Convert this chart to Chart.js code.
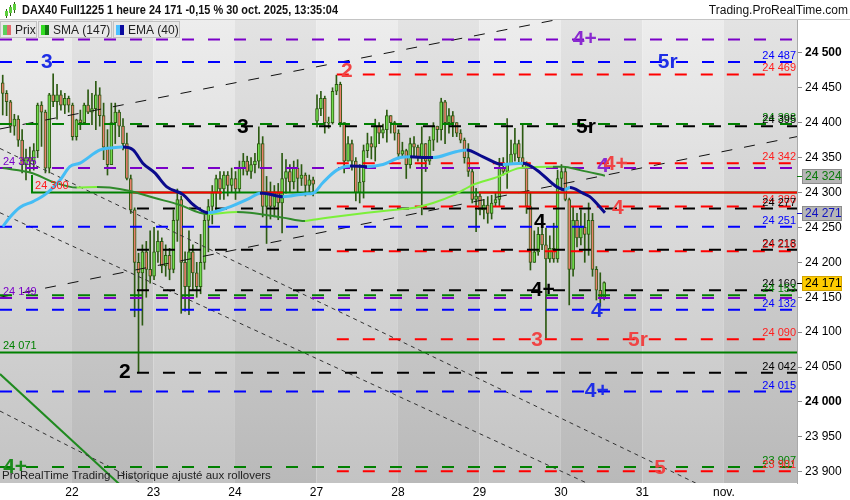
<!DOCTYPE html>
<html>
<head>
<meta charset="utf-8">
<title>DAX40 Full1225 1 heure</title>
<script src="https://cdn.jsdelivr.net/npm/chart.js@4.4.1/dist/chart.umd.min.js"></script>
<style>
  html, body { margin: 0; padding: 0; background: #fff; }
  canvas { display: block; }
</style>
</head>
<body>
<canvas id="chart" width="850" height="500"></canvas>
<script>
Chart.defaults.font.family = "'Liberation Sans', Arial, sans-serif";

// x axis is in bars (one bar = one hour), 21 bars per session
const xMin = -0.7;
const xMax = 204.7;
const dayTickPos = [17.85, 38.85, 59.85, 80.85, 101.85, 122.85, 143.85, 164.85, 185.85];
const dayLabels = ['22', '23', '24', '27', '28', '29', '30', '31', 'nov.'];

const yTickValues = [23900, 23950, 24000, 24050, 24100, 24150, 24200, 24250, 24300, 24350, 24400, 24450, 24500];

// candles
const firstOpen = 24457;
const sessionOpens = { 81: 24402 }; // gap up at the 27 oct open
const closes = [
  24442, 24430, 24395, 24405, 24375, 24340, 24350, 24345, 24360, 24425,
  24415, 24335, 24440, 24430, 24440, 24425, 24435, 24425, 24380, 24404,
  24400, 24425, 24415, 24420, 24440, 24410, 24365, 24340, 24400, 24415,
  24395, 24370, 24320, 24275, 24200, 24185, 24215, 24190, 24180, 24215,
  24230, 24195, 24210, 24190, 24260, 24290, 24200, 24165, 24215, 24185,
  24165, 24200, 24260, 24280, 24300, 24320, 24305, 24325, 24310, 24320,
  24305, 24335, 24345, 24330, 24340, 24345, 24370, 24280, 24300, 24280,
  24300, 24285, 24320, 24330, 24315, 24335, 24320, 24325, 24310, 24318,
  24312, 24420, 24435, 24400, 24400, 24445, 24455, 24400, 24345, 24370,
  24345, 24300, 24315, 24360, 24370, 24365, 24395, 24385, 24390, 24410,
  24400, 24385, 24355, 24360, 24340, 24370, 24365, 24350, 24370, 24345,
  24375, 24395, 24390, 24430, 24400, 24410, 24400, 24385, 24375, 24350,
  24330, 24290, 24295, 24275, 24282, 24270, 24285, 24290, 24335, 24330,
  24340, 24355, 24370, 24350, 24340, 24280, 24200, 24215, 24240, 24225,
  24205, 24220, 24205, 24320, 24330, 24290, 24190, 24260, 24235, 24250,
  24240, 24260, 24190, 24160, 24150, 24171
];
const highs = [
  24468, 24446, 24432, 24412, 24410, 24390, 24362, 24365, 24370, 24428,
  24430, 24418, 24442, 24470, 24455, 24446, 24442, 24438, 24428, 24405,
  24418, 24428, 24447, 24442, 24459, 24450, 24428, 24390, 24428, 24428,
  24418, 24406, 24385, 24325, 24278, 24213, 24225, 24230, 24245, 24250,
  24245, 24235, 24225, 24220, 24275, 24305, 24295, 24215, 24245, 24225,
  24200, 24240, 24270, 24290, 24310, 24325, 24330, 24330, 24330, 24335,
  24330, 24345, 24356, 24352, 24350, 24356, 24394, 24380, 24323, 24315,
  24310, 24313, 24356, 24347, 24340, 24345, 24347, 24340, 24328, 24325,
  24322, 24440, 24445, 24438, 24408, 24450, 24468, 24458, 24400, 24380,
  24375, 24350, 24340, 24368, 24385, 24380, 24405, 24400, 24398, 24418,
  24410, 24402, 24390, 24372, 24362, 24378, 24380, 24368, 24394, 24370,
  24380, 24400, 24395, 24435, 24432, 24420, 24416, 24400, 24390, 24378,
  24370, 24334, 24306, 24298, 24290, 24294, 24296, 24300, 24349, 24350,
  24406, 24375, 24392, 24375, 24397, 24344, 24299, 24245, 24250, 24256,
  24249, 24238, 24256, 24332, 24340, 24335, 24292, 24280, 24270, 24275,
  24270, 24285, 24270, 24194, 24185, 24172
];
const lows = [
  24411, 24410, 24386, 24382, 24366, 24328, 24318, 24330, 24332, 24350,
  24366, 24328, 24328, 24423, 24405, 24418, 24413, 24415, 24375, 24375,
  24390, 24398, 24413, 24397, 24390, 24395, 24347, 24325, 24340, 24370,
  24380, 24361, 24318, 24270, 24122, 24042, 24110, 24150, 24170, 24175,
  24200, 24185, 24180, 24175, 24185, 24230, 24127, 24130, 24125, 24160,
  24150, 24155, 24190, 24215, 24255, 24275, 24290, 24290, 24295, 24300,
  24290, 24300, 24325, 24325, 24320, 24328, 24335, 24265, 24227, 24262,
  24265, 24261, 24242, 24299, 24300, 24305, 24300, 24310, 24295, 24300,
  24295, 24394, 24410, 24385, 24392, 24398, 24440, 24394, 24328, 24345,
  24332, 24288, 24285, 24292, 24350, 24348, 24345, 24370, 24378, 24372,
  24385, 24375, 24348, 24350, 24320, 24335, 24350, 24345, 24268, 24330,
  24340, 24360, 24372, 24375, 24370, 24385, 24380, 24380, 24371, 24342,
  24323, 24285, 24244, 24268, 24262, 24256, 24262, 24280, 24280, 24325,
  24306, 24340, 24345, 24340, 24337, 24270, 24189, 24200, 24210, 24218,
  24091, 24200, 24200, 24200, 24304, 24288, 24139, 24180, 24222, 24225,
  24200, 24210, 24180, 24146, 24137, 24146
];

// moving averages (bar, price)
const smaX = [0, 7.5, 13, 19.1, 24.3, 27.6, 32.8, 39.2, 45.7, 50.8, 52.9, 60.4, 63.7, 72.2, 77.9, 80, 85.1, 93.9, 102.4, 106.8, 110.9, 116.5, 121.2, 127.4, 133.3, 141.8, 144.4, 148.8, 155.2];
const smaY = [24335, 24328, 24315, 24307, 24308, 24307, 24302, 24292, 24282, 24271, 24269, 24272, 24271, 24264, 24259, 24261, 24265, 24271, 24276, 24279, 24285, 24297, 24311, 24322, 24335, 24337, 24337, 24332, 24324];
const emaX = [0, 1.9, 4.5, 7.8, 11.4, 14.8, 17.3, 19.9, 25.1, 28.4, 31, 33.6, 36.1, 39.2, 42.3, 46.5, 49.2, 52.9, 57.8, 63.7, 66.3, 67.1, 72.2, 77.9, 80, 82.5, 86.1, 89.5, 93.9, 98, 102.4, 105, 109.3, 110.9, 116.5, 119.6, 123.8, 128.9, 134.1, 137.7, 142.8, 144.8, 146.2, 149.5, 151.3, 155.2];
const emaY = [24251, 24265, 24279, 24287, 24299, 24318, 24337, 24342, 24361, 24364, 24365, 24361, 24342, 24328, 24308, 24297, 24282, 24271, 24278, 24292, 24299, 24299, 24294, 24298, 24299, 24314, 24332, 24338, 24337, 24340, 24350, 24351, 24350, 24350, 24358, 24361, 24351, 24340, 24342, 24332, 24308, 24304, 24307, 24299, 24294, 24271];

// horizontal levels
const levelPrice = [24519, 24487, 24469, 24398, 24395, 24342, 24335, 24280, 24277, 24251, 24218, 24216, 24160, 24153, 24149, 24132, 24090, 24071, 24042, 24015, 23907, 23901];
const levelColor = ['purple', 'blue', 'red', 'green', 'black', 'red', 'purple', 'red', 'black', 'blue', 'black', 'red', 'black', 'green', 'purple', 'blue', 'red', 'green', 'black', 'blue', 'green', 'red'];
const levelStart = [xMin, xMin, 86.1, xMin, 34.6, 86.1, xMin, 86.1, 34.6, xMin, 34.6, 86.1, 34.6, xMin, xMin, xMin, 86.1, xMin, 34.6, xMin, xMin, 86.1];
const levelSolid = [false, false, false, false, false, false, false, false, false, false, false, false, false, false, false, false, false, true, false, false, false, false];
const levelTag = ['', 'R', 'R', 'R', 'R', 'R', 'L', 'R', 'R', 'R', 'R', 'R', 'R', 'R', 'L', 'R', 'R', 'L', 'R', 'R', 'R', 'R'];

// the 24 300 box line and its red parts
const boxPrice = 24300;
const boxTop = 24325;
const boxStart = 7.55;
const redParts = [[33.6, 56.5], [66.8, 72.2], [122.7, xMax]];

// trend lines: [bar0, price0, bar1, price1, style]
const trendLines = [
  [xMin, 24391, xMax, 24615, 'long'],
  [xMin, 24150, xMax, 24380, 'long'],
  [xMin, 24363, 179.7, 23881, 'dot'],
  [xMin, 24271, 151.3, 23882, 'dot'],
  [xMin, 23987, 35.4, 23885, 'dot'],
  [xMin, 24040, 31.5, 23875, 'green']
];

// wave marks
const markText  = ['3', '2', '3', '5r', '4+', '5r', '4', '4+', '4', '4', '4+', '4', '3', '5r', '2', '4+', '4+', '5'];
const markBar   = [11.4, 88.7, 61.9, 150.3, 150, 171.4, 154.7, 158, 158.5, 138.4, 139.2, 153.1, 137.7, 163.7, 31.5, 153.1, 3.2, 169.4];
const markPrice = [24487, 24473, 24393, 24394, 24520, 24487, 24337, 24340, 24277, 24258, 24160, 24130, 24089, 24089, 24043, 24016, 23907, 23905];
const markColor = ['blue', 'red', 'black', 'black', 'purple', 'blue', 'purple', 'red', 'red', 'black', 'black', 'blue', 'red', 'red', 'black', 'blue', 'green', 'red'];

const lastPrice = 24171;
const lastSma = 24324;
const lastEma = 24271;

const COLORS = { purple: '#7a00c8', blue: '#0000ff', red: '#ff0000', green: '#008000', black: '#000000' };
const MARK_COLORS = { purple: '#8a2ad0', blue: '#1e2ee6', red: '#f04444', green: '#1d8a1d', black: '#000000' };
const WICK = '#2c5a12';
const UP = '#72dc4e';
const DOWN = '#e8806c';

function fmt(v) {
  return String(Math.round(v)).replace(/\B(?=(\d{3})+(?!\d))/g, ' ');
}

const opens = closes.map((c, i) => sessionOpens[i] !== undefined ? sessionOpens[i] : (i === 0 ? firstOpen : closes[i - 1]));

const wickData = closes.map((c, i) => ({ x: i, y: [lows[i], Math.max(highs[i], opens[i], c)] }));
const bodyData = closes.map((c, i) => {
  const lo = Math.min(opens[i], c), hi = Math.max(opens[i], c);
  return { x: i, y: lo === hi ? [lo - 0.6, hi + 0.6] : [lo, hi] };
});
const bodyColors = closes.map((c, i) => c >= opens[i] ? UP : DOWN);

const datasets = [];
datasets.push({ type: 'bar', data: wickData, backgroundColor: WICK, barThickness: 1, grouped: false, order: 10 });
datasets.push({ type: 'bar', data: bodyData, backgroundColor: bodyColors, borderColor: WICK, borderWidth: 1, borderSkipped: false, barThickness: 3, grouped: false, order: 9 });

trendLines.forEach(t => {
  const style = t[4];
  datasets.push({
    type: 'line',
    data: [{ x: t[0], y: t[1] }, { x: t[2], y: t[3] }],
    borderColor: style === 'green' ? '#1f8a1f' : (style === 'dot' ? '#333' : '#111'),
    borderWidth: style === 'green' ? 2 : 1,
    borderDash: style === 'long' ? [11, 12] : (style === 'dot' ? [4, 4] : []),
    pointRadius: 0, order: 7
  });
});

levelPrice.forEach((p, k) => {
  datasets.push({
    type: 'line',
    data: [{ x: levelStart[k], y: p }, { x: xMax, y: p }],
    borderColor: COLORS[levelColor[k]],
    borderWidth: 2,
    borderDash: levelSolid[k] ? [] : [12, 14],
    pointRadius: 0, order: 6
  });
});

datasets.push({
  type: 'line',
  data: [{ x: boxStart, y: boxTop }, { x: boxStart, y: boxPrice }, { x: xMax, y: boxPrice }],
  borderColor: COLORS.green, borderWidth: 2, pointRadius: 0, order: 6
});
redParts.forEach(r => {
  datasets.push({
    type: 'line',
    data: [{ x: r[0], y: boxPrice }, { x: r[1], y: boxPrice }],
    borderColor: COLORS.red, borderWidth: 2, pointRadius: 0, order: 5
  });
});

datasets.push({
  type: 'line',
  data: smaX.map((x, i) => ({ x: x, y: smaY[i] })),
  borderWidth: 2, pointRadius: 0, cubicInterpolationMode: 'monotone',
  borderColor: '#2f8a2a',
  segment: { borderColor: ctx => ctx.p1.parsed.y > ctx.p0.parsed.y ? '#7cf03a' : '#2f8a2a' },
  order: 2
});
datasets.push({
  type: 'line',
  data: emaX.map((x, i) => ({ x: x, y: emaY[i] })),
  borderWidth: 3, pointRadius: 0, cubicInterpolationMode: 'monotone',
  borderColor: '#0a0a8c',
  segment: { borderColor: ctx => ctx.p1.parsed.y > ctx.p0.parsed.y ? '#45bdf5' : '#0a0a8c' },
  order: 1
});

// background bands, header, labels
const chrome = {
  id: 'chrome',
  beforeDraw(chart) {
    const { ctx, chartArea: a, scales: { x } } = chart;
    ctx.save();
    ctx.fillStyle = '#fff';
    ctx.fillRect(0, 0, chart.width, chart.height);
    const edges = [xMin].concat(dayTickPos, [xMax]);
    for (let k = 0; k < edges.length - 1; k++) {
      const x0 = x.getPixelForValue(edges[k]);
      const x1 = x.getPixelForValue(edges[k + 1]);
      const g = ctx.createLinearGradient(0, a.top, 0, a.bottom);
      if (k % 2 === 0) { g.addColorStop(0, '#ededed'); g.addColorStop(1, '#c3c3c3'); }
      else { g.addColorStop(0, '#e3e3e3'); g.addColorStop(1, '#b9b9b9'); }
      ctx.fillStyle = g;
      ctx.fillRect(x0, a.top, x1 - x0, a.bottom - a.top);
    }
    ctx.restore();
  },
  afterDatasetsDraw(chart) {
    const { ctx, chartArea: a, scales: { x, y } } = chart;
    ctx.save();
    ctx.beginPath();
    ctx.rect(a.left, a.top, a.right - a.left, a.bottom - a.top);
    ctx.clip();

    // level values
    ctx.font = "11px 'Liberation Sans', Arial, sans-serif";
    ctx.textBaseline = 'alphabetic';
    levelPrice.forEach((p, k) => {
      const py = y.getPixelForValue(p);
      ctx.fillStyle = COLORS[levelColor[k]] === '#ff0000' ? '#ff2020' : COLORS[levelColor[k]];
      if (levelTag[k] === 'R') {
        ctx.textAlign = 'right';
        ctx.fillText(fmt(p), a.right - 1, py - 3);
      } else if (levelTag[k] === 'L') {
        ctx.textAlign = 'left';
        ctx.fillText(fmt(p), a.left + 3, py - 3);
      }
    });
    ctx.textAlign = 'left';
    ctx.fillStyle = '#ff2020';
    ctx.fillText(fmt(boxPrice), x.getPixelForValue(boxStart) + 3, y.getPixelForValue(boxPrice) - 3);

    // wave marks
    ctx.font = "bold 21px 'Liberation Sans', Arial, sans-serif";
    ctx.textAlign = 'center';
    ctx.textBaseline = 'middle';
    markText.forEach((t, k) => {
      ctx.fillStyle = MARK_COLORS[markColor[k]];
      ctx.fillText(t, x.getPixelForValue(markBar[k]), y.getPixelForValue(markPrice[k]));
    });

    ctx.font = "11.5px 'Liberation Sans', Arial, sans-serif";
    ctx.textAlign = 'left';
    ctx.fillStyle = '#222';
    ctx.fillText('ProRealTime Trading  Historique ajusté aux rollovers', a.left + 2, a.bottom - 7);
    ctx.restore();
  },
  afterDraw(chart) {
    const { ctx, chartArea: a, scales: { y } } = chart;
    ctx.save();
    // header strip
    ctx.fillStyle = '#fff';
    ctx.fillRect(0, 0, chart.width, a.top);
    ctx.strokeStyle = '#c4c4c4';
    ctx.beginPath(); ctx.moveTo(0, a.top - 0.5); ctx.lineTo(chart.width, a.top - 0.5); ctx.stroke();
    // small candle icon
    [[5, 9, 15, 11, 14], [9, 5, 13, 7, 11], [13, 2, 10, 4, 8]].forEach(c => {
      ctx.fillStyle = WICK;
      ctx.fillRect(c[0] + 1, c[1], 1, c[2] - c[1] + 3);
      ctx.fillStyle = '#5ccf3c';
      ctx.fillRect(c[0], c[3], 3, c[4] - c[3] + 2);
    });
    ctx.fillStyle = '#111';
    ctx.textBaseline = 'middle';
    ctx.textAlign = 'left';
    ctx.font = "bold 12px 'Liberation Sans', Arial, sans-serif";
    ctx.fillText('DAX40 Full1225 1 heure 24 171 -0,15 % 30 oct. 2025, 13:35:04', 22, 10.5, 316);
    ctx.font = "12px 'Liberation Sans', Arial, sans-serif";
    ctx.textAlign = 'right';
    ctx.fillText('Trading.ProRealTime.com', 848, 10.5, 144);

    // legend boxes
    const boxes = [
      [0, 37, 'Prix', '#5ccf5c', '#e06a6a'],
      [38, 112, 'SMA (147)', '#33dd22', '#127a12'],
      [113, 180, 'EMA (40)', '#4cc0ff', '#0a0aa0']
    ];
    ctx.textAlign = 'left';
    boxes.forEach(b => {
      ctx.fillStyle = '#e9e9e9';
      ctx.fillRect(b[0], a.top + 1, b[1] - b[0], 17);
      ctx.strokeStyle = '#c2c2c2';
      ctx.strokeRect(b[0] + 0.5, a.top + 1.5, b[1] - b[0] - 1, 16);
      ctx.fillStyle = b[3];
      ctx.fillRect(b[0] + 3, a.top + 5, 4, 10);
      ctx.fillStyle = b[4];
      ctx.fillRect(b[0] + 7, a.top + 5, 4, 10);
      ctx.fillStyle = '#222';
      ctx.fillText(b[2], b[0] + 15, a.top + 10.5);
    });

    // value boxes on the price axis
    const tags = [
      [lastSma, '#b6b6b6', '#8c8c8c', '#0c7a0c'],
      [lastEma, '#b6b6b6', '#8c8c8c', '#1010c0'],
      [lastPrice, '#ffcc00', '#d4a500', '#000']
    ];
    tags.forEach(t => {
      const py = Math.round(y.getPixelForValue(t[0]));
      ctx.fillStyle = t[3];
      ctx.fillRect(a.right, py, 5, 1);
      ctx.fillStyle = t[1];
      ctx.fillRect(a.right + 5, py - 7, 40, 15);
      ctx.strokeStyle = t[2];
      ctx.strokeRect(a.right + 5.5, py - 6.5, 39, 14);
      ctx.fillStyle = t[3];
      ctx.font = "12px 'Liberation Sans', Arial, sans-serif";
      ctx.textAlign = 'left';
      ctx.fillText(fmt(t[0]), a.right + 8, py + 1);
    });
    ctx.restore();
  }
};

new Chart(document.getElementById('chart'), {
  type: 'bar',
  data: { datasets: datasets },
  plugins: [chrome],
  options: {
    responsive: false,
    animation: false,
    devicePixelRatio: 1,
    layout: { padding: { top: 20, left: 0, right: 0, bottom: 0 } },
    plugins: { legend: { display: false }, tooltip: { enabled: false } },
    scales: {
      x: {
        type: 'linear',
        min: xMin,
        max: xMax,
        offset: false,
        grid: { display: false, drawTicks: false },
        border: { display: false },
        afterBuildTicks: scale => { scale.ticks = dayTickPos.map(v => ({ value: v })); },
        afterFit: scale => { scale.height = 17; },
        ticks: {
          autoSkip: false,
          maxRotation: 0,
          padding: 2,
          color: '#000',
          font: { size: 12 },
          callback: (v, i) => dayLabels[i]
        }
      },
      y: {
        type: 'linear',
        position: 'right',
        min: 23884,
        max: 24547,
        grid: { drawOnChartArea: false, drawTicks: true, tickLength: 5, color: '#888' },
        border: { color: '#aaaaaa' },
        afterBuildTicks: scale => { scale.ticks = yTickValues.map(v => ({ value: v })); },
        afterFit: scale => { scale.width = 53; },
        ticks: {
          padding: 3,
          color: '#000',
          font: ctx => ({ size: 12, weight: ctx.tick && ctx.tick.value % 500 === 0 ? 'bold' : 'normal' }),
          callback: v => fmt(v)
        }
      }
    }
  }
});
</script>
</body>
</html>
